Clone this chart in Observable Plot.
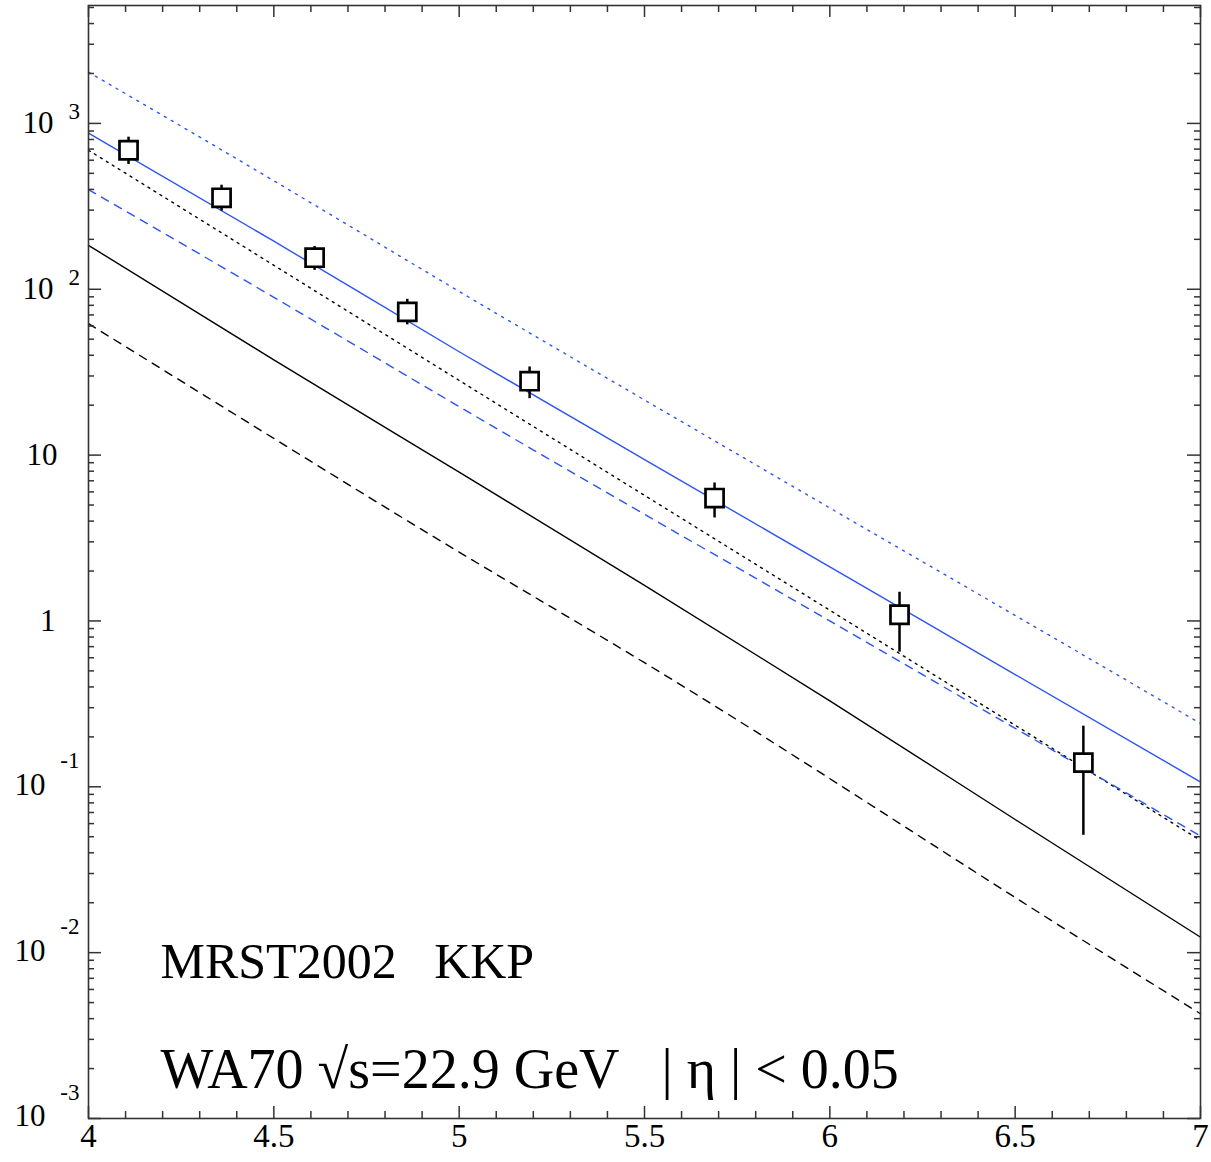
<!DOCTYPE html>
<html>
<head>
<meta charset="utf-8">
<script src="https://cdn.jsdelivr.net/npm/d3@7"></script>
<script src="https://cdn.jsdelivr.net/npm/@observablehq/plot@0.6"></script>
<style>
  body { margin: 0; background: #fff; }
  #chart svg { display: block; }
</style>
</head>
<body>
<div id="chart"></div>
<script>
// ---- data ----
const curveX = [4, 4.5, 5, 5.5, 6, 6.5, 7];
const blueDotted  = [2037, 451, 97, 21.5, 4.8, 1.08, 0.241];
const blueSolid   = [873, 195, 42, 9.4, 2.12, 0.475, 0.107];
const blackDotted = [689, 139.5, 28.2, 5.72, 1.16, 0.235, 0.0475];
const blueDashed  = [399, 89.4, 19.6, 4.4, 1.0, 0.225, 0.0505];
const blackSolid  = [184, 37.5, 7.9, 1.64, 0.33, 0.0635, 0.0124];
const blackDashed = [62, 12.6, 2.6, 0.56, 0.112, 0.0215, 0.00428];

const dataX   = [4.108, 4.359, 4.61, 4.86, 5.19, 5.689, 6.188, 6.684];
const dataY   = [689, 356, 155, 73, 27.9, 5.51, 1.09, 0.14];
const dataLo  = [565, 296, 130, 61, 21.9, 4.18, 0.649, 0.051];
const dataHi  = [826, 424, 181, 87, 34, 6.79, 1.49, 0.232];

const xTickValues = [4, 4.5, 5, 5.5, 6, 6.5, 7];
const xTickLabels = ["4", "4.5", "5", "5.5", "6", "6.5", "7"];
const yTickValues = [1e3, 1e2, 10, 1, 1e-1, 1e-2, 1e-3];
const yTickBase   = ["10", "10", "10", "1", "10", "10", "10"];
const yTickExp    = ["3", "2", "", "", "-1", "-2", "-3"];

const annotation1 = "MRST2002\u00a0\u00a0\u00a0KKP";
const annotation2 = "WA70 \u221as=22.9 GeV\u00a0\u00a0\u00a0| \u03b7 | < 0.05";

// ---- layout ----
const W = 1211, H = 1162;
const mL = 88, mR = 11, mT = 5, mB = 44;
const frameW = W - mL - mR, frameH = H - mT - mB;
const yMax = 5140;
const blue = "#2b55f0";
const serif = "'Liberation Serif', 'Times New Roman', serif";

const curves = [
  {vals: blueDotted, color: blue, dash: "2,6"},
  {vals: blueSolid, color: blue, dash: null},
  {vals: blackDotted, color: "#000", dash: "2,5"},
  {vals: blueDashed, color: blue, dash: "8,7"},
  {vals: blackSolid, color: "#000", dash: null},
  {vals: blackDashed, color: "#000", dash: "8,7"}
];

const points = dataX.map((x, i) => ({x, y: dataY[i], lo: dataLo[i], hi: dataHi[i]}));

// minor ticks
const xMinor = d3.range(40, 71).map(d => d / 10).filter(v => !xTickValues.some(t => Math.abs(t - v) < 1e-9));
const yMinor = [];
for (let e = -3; e <= 3; e++) for (let k = 2; k <= 9; k++) { const v = k * Math.pow(10, e); if (v < yMax) yMinor.push(v); }

const yLab = yTickValues.map((v, i) => ({v, base: yTickBase[i], exp: yTickExp[i]}));
const posLab = yLab.filter(d => d.exp && !d.exp.startsWith("-"));
const negLab = yLab.filter(d => d.exp.startsWith("-"));
const plainLab = yLab.filter(d => !d.exp);

const marks = [];
for (const c of curves) {
  marks.push(Plot.line(curveX.map((x, i) => ({x, y: c.vals[i]})), {
    x: "x", y: "y", stroke: c.color, strokeWidth: 1.4,
    strokeDasharray: c.dash, curve: "natural"
  }));
}
marks.push(Plot.ruleX(points, {x: "x", y1: "lo", y2: "hi", stroke: "#000", strokeWidth: 2.5}));
marks.push(Plot.dot(points, {x: "x", y: "y", symbol: "square", r: 10.2, fill: "#fff", stroke: "#000", strokeWidth: 2.7}));

marks.push(Plot.frame({stroke: "#333", strokeWidth: 1.6}));

const tickStyle = {stroke: "#333", strokeWidth: 1.5};
marks.push(Plot.ruleX(xTickValues, {...tickStyle, insetTop: frameH - 12}));
marks.push(Plot.ruleX(xTickValues, {...tickStyle, insetBottom: frameH - 12}));
marks.push(Plot.ruleX(xMinor, {...tickStyle, insetTop: frameH - 7}));
marks.push(Plot.ruleX(xMinor, {...tickStyle, insetBottom: frameH - 7}));
marks.push(Plot.ruleY(yTickValues, {...tickStyle, insetRight: frameW - 13}));
marks.push(Plot.ruleY(yTickValues, {...tickStyle, insetLeft: frameW - 13}));
marks.push(Plot.ruleY(yMinor, {...tickStyle, insetRight: frameW - 6}));
marks.push(Plot.ruleY(yMinor, {...tickStyle, insetLeft: frameW - 6}));

marks.push(Plot.text(xTickValues, {
  x: d => d, frameAnchor: "bottom", text: (d, i) => xTickLabels[i],
  dy: 28, fontSize: 33, fontFamily: serif, fill: "#000", textAnchor: "middle"
}));
marks.push(Plot.text(posLab, {y: "v", frameAnchor: "left", text: "base", textAnchor: "end", dx: -35, fontSize: 31, fontFamily: serif, fill: "#000"}));
marks.push(Plot.text(posLab, {y: "v", frameAnchor: "left", text: "exp", textAnchor: "start", dx: -20, dy: -12, fontSize: 23, fontFamily: serif, fill: "#000"}));
marks.push(Plot.text(negLab, {y: "v", frameAnchor: "left", text: "base", textAnchor: "end", dx: -43, dy: -2, fontSize: 31, fontFamily: serif, fill: "#000"}));
marks.push(Plot.text(negLab, {y: "v", frameAnchor: "left", text: "exp", textAnchor: "end", dx: -9, dy: -26, fontSize: 23, fontFamily: serif, fill: "#000"}));
marks.push(Plot.text(plainLab.filter(d => d.base === "10"), {y: "v", frameAnchor: "left", text: "base", textAnchor: "end", dx: -31, fontSize: 31, fontFamily: serif, fill: "#000"}));
marks.push(Plot.text(plainLab.filter(d => d.base === "1"), {y: "v", frameAnchor: "left", text: "base", textAnchor: "end", dx: -33, fontSize: 31, fontFamily: serif, fill: "#000"}));

marks.push(Plot.text([annotation1], {frameAnchor: "bottom-left", text: d => d, dx: 72, dy: -141, lineAnchor: "bottom", textAnchor: "start", fontSize: 50, fontFamily: serif, fill: "#000"}));
marks.push(Plot.text([annotation2], {frameAnchor: "bottom-left", text: d => d, dx: 72, dy: -31, lineAnchor: "bottom", textAnchor: "start", fontSize: 56, fontFamily: serif, fill: "#000"}));

const chart = Plot.plot({
  width: W, height: H,
  marginLeft: mL, marginRight: mR, marginTop: mT, marginBottom: mB,
  style: {background: "#fff", fontFamily: serif},
  x: {domain: [4, 7], axis: null},
  y: {type: "log", domain: [1e-3, yMax], axis: null},
  marks
});
document.getElementById("chart").append(chart);
</script>
</body>
</html>
